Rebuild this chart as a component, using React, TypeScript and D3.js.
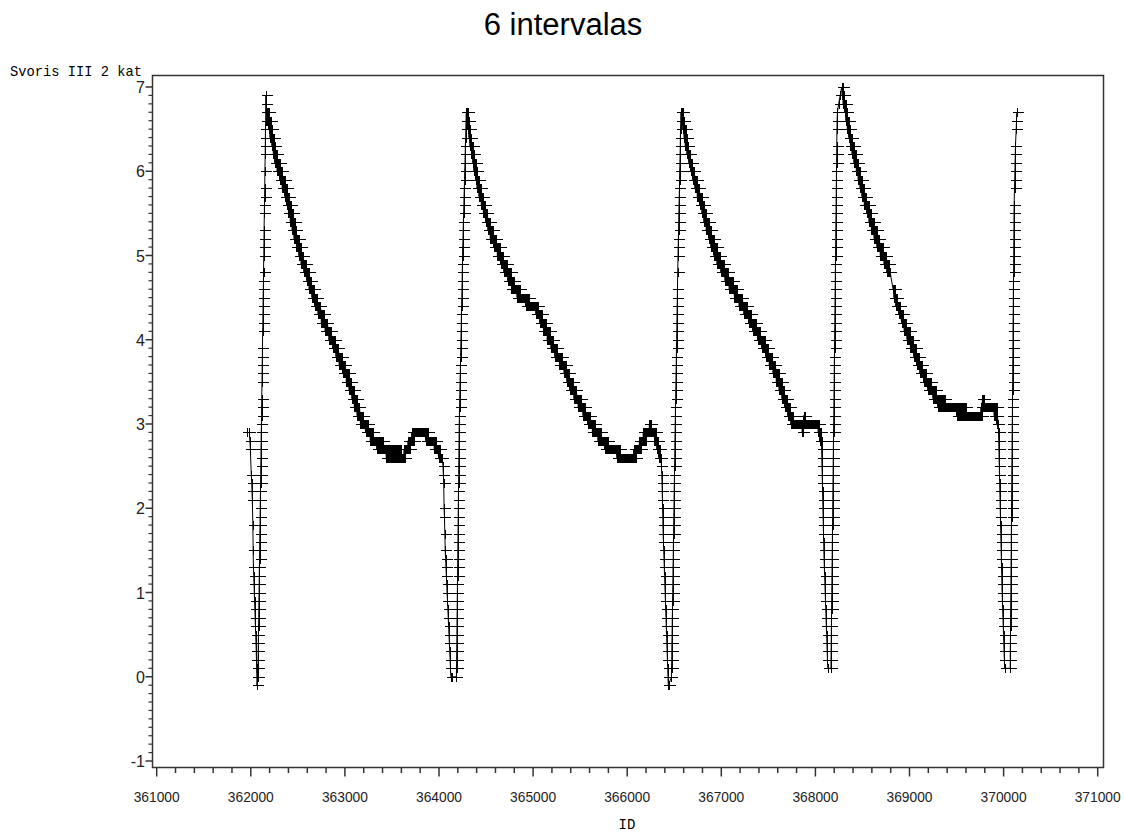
import React from 'react';
import * as d3 from 'd3';

// readings: [ID, value] -- the steep drops and rises, one marker per reading
// level runs: [value, first ID, last ID] -- the slow decays, where the markers
// sit so close together that they merge into a band

const seg1Drop = [
  [361960, 2.9], [361985, 2.9], [361990, 2.8], [361995, 2.7], [362005, 2.4], [362010, 2.3],
  [362013, 2.2], [362016, 2.1], [362022, 1.8], [362025, 1.5], [362028, 1.3], [362031, 1.2],
  [362034, 1.1], [362037, 1.0], [362040, 0.9], [362043, 0.8], [362046, 0.7], [362049, 0.6],
  [362052, 0.5], [362055, 0.4], [362058, 0.3], [362060, 0.2], [362062, 0.1], [362064, 0.0],
  [362066, -0.1],
];

const seg1Rise = [
  [362075, 0], [362076, 0.1], [362077, 0.2], [362079, 0.3], [362080, 0.4], [362081, 0.5],
  [362082, 0.6], [362084, 0.7], [362085, 0.8], [362086, 0.9], [362088, 1.0], [362089, 1.1],
  [362090, 1.2], [362091, 1.3], [362093, 1.4], [362094, 1.5], [362095, 1.6], [362096, 1.7],
  [362098, 1.8], [362099, 1.9], [362100, 2.0], [362101, 2.1], [362103, 2.2], [362104, 2.3],
  [362105, 2.4], [362106, 2.5], [362108, 2.6], [362109, 2.7], [362110, 2.8], [362111, 2.9],
  [362113, 3.0], [362114, 3.1], [362115, 3.2], [362116, 3.3], [362119, 3.5], [362120, 3.6],
  [362121, 3.7], [362123, 3.8], [362124, 3.9], [362126, 4.1], [362128, 4.2], [362129, 4.3],
  [362130, 4.4], [362131, 4.5], [362133, 4.6], [362134, 4.7], [362135, 4.8], [362138, 5.0],
  [362139, 5.1], [362140, 5.2], [362141, 5.3], [362144, 5.5], [362145, 5.6], [362146, 5.7],
  [362148, 5.8], [362150, 6.0], [362153, 6.2], [362154, 6.3], [362155, 6.4], [362156, 6.5],
  [362158, 6.6], [362159, 6.7], [362160, 6.8], [362161, 6.9],
];

const seg1Decay = [
  [6.7, 362162, 362190], [6.6, 362175, 362210], [6.5, 362190, 362225], [6.4, 362205, 362245],
  [6.3, 362225, 362260], [6.2, 362240, 362280], [6.1, 362255, 362305], [6.0, 362280, 362330],
  [5.9, 362305, 362360], [5.8, 362335, 362385], [5.7, 362360, 362405], [5.6, 362380, 362425],
  [5.5, 362400, 362445], [5.4, 362420, 362465], [5.3, 362440, 362485], [5.2, 362460, 362510],
  [5.1, 362485, 362535], [5.0, 362510, 362560], [4.9, 362535, 362590], [4.8, 362565, 362620],
  [4.7, 362595, 362645], [4.6, 362620, 362675], [4.5, 362650, 362705], [4.4, 362680, 362740],
  [4.3, 362715, 362775], [4.2, 362750, 362815], [4.1, 362790, 362855], [4.0, 362830, 362895],
  [3.9, 362870, 362930], [3.8, 362905, 362965], [3.7, 362940, 363000], [3.6, 362975, 363040],
  [3.5, 363015, 363070], [3.4, 363045, 363100], [3.3, 363075, 363125], [3.2, 363100, 363155],
  [3.1, 363130, 363190], [3.0, 363165, 363245], [2.9, 363220, 363300], [2.8, 363270, 363400],
  [2.7, 363340, 363600], [2.6, 363440, 363640], [2.7, 363630, 363690], [2.8, 363670, 363735],
  [2.9, 363710, 363880], [2.8, 363860, 363970], [2.7, 363950, 364010], [2.6, 363995, 364035],
];

const seg2Drop = [
  [364042, 2.5], [364046, 2.4], [364050, 2.3], [364054, 2.0], [364058, 1.9], [364062, 1.7],
  [364066, 1.5], [364070, 1.4], [364074, 1.3], [364078, 1.2], [364082, 1.1], [364086, 1.0],
  [364090, 0.9], [364094, 0.8], [364098, 0.7], [364102, 0.6], [364106, 0.5], [364110, 0.4],
  [364114, 0.3], [364118, 0.2], [364122, 0.1], [364126, 0.0], [364140, 0.0],
];

const seg2Rise = [
  [364185, 0], [364186, 0.1], [364187, 0.2], [364188, 0.3], [364189, 0.4], [364190, 0.5],
  [364191, 0.6], [364192, 0.7], [364193, 0.8], [364194, 0.9], [364195, 1.0], [364196, 1.1],
  [364197, 1.2], [364198, 1.3], [364199, 1.4], [364200, 1.5], [364201, 1.6], [364202, 1.7],
  [364203, 1.8], [364204, 1.9], [364205, 2.0], [364206, 2.1], [364207, 2.2], [364208, 2.3],
  [364209, 2.4], [364210, 2.5], [364211, 2.6], [364212, 2.7], [364213, 2.8], [364214, 2.9],
  [364215, 3.0], [364217, 3.1], [364219, 3.2], [364220, 3.3], [364222, 3.4], [364224, 3.5],
  [364226, 3.6], [364228, 3.7], [364229, 3.8], [364231, 3.9], [364233, 4.0], [364235, 4.1],
  [364237, 4.2], [364238, 4.3], [364240, 4.4], [364242, 4.5], [364244, 4.6], [364246, 4.7],
  [364247, 4.8], [364249, 4.9], [364250, 5.0], [364252, 5.1], [364255, 5.2], [364257, 5.3],
  [364259, 5.4], [364262, 5.5], [364264, 5.6], [364266, 5.7], [364269, 5.8], [364271, 5.9],
  [364273, 6.0], [364276, 6.1], [364278, 6.2], [364280, 6.3], [364283, 6.4], [364285, 6.5],
  [364287, 6.6], [364290, 6.7],
];

const seg2Decay = [
  [6.7, 364291, 364305], [6.6, 364295, 364318], [6.5, 364305, 364332], [6.4, 364318, 364345],
  [6.3, 364330, 364360], [6.2, 364345, 364375], [6.1, 364360, 364390], [6.0, 364372, 364405],
  [5.9, 364388, 364425], [5.8, 364405, 364445], [5.7, 364425, 364470], [5.6, 364450, 364492],
  [5.5, 364472, 364515], [5.4, 364495, 364540], [5.3, 364520, 364570], [5.2, 364545, 364605],
  [5.1, 364580, 364645], [5.0, 364620, 364680], [4.9, 364655, 364720], [4.8, 364690, 364760],
  [4.7, 364730, 364800], [4.6, 364770, 364860], [4.5, 364830, 364960], [4.4, 364920, 365050],
  [4.3, 365030, 365095], [4.2, 365070, 365135], [4.1, 365110, 365175], [4.0, 365150, 365215],
  [3.9, 365190, 365255], [3.8, 365230, 365310], [3.7, 365280, 365350], [3.6, 365330, 365385],
  [3.5, 365360, 365420], [3.4, 365390, 365460], [3.3, 365435, 365505], [3.2, 365480, 365555],
  [3.1, 365530, 365605], [3.0, 365580, 365655], [2.9, 365630, 365720], [2.8, 365690, 365800],
  [2.7, 365760, 365920], [2.6, 365890, 366090], [2.7, 366070, 366150], [2.8, 366130, 366195],
  [2.9, 366170, 366310], [3.0, 366235, 366250], [2.8, 366290, 366330], [2.7, 366315, 366345],
  [2.6, 366335, 366360],
];

const seg3Drop = [
  [366364, 2.5], [366367, 2.4], [366370, 2.3], [366372, 2.2], [366374, 2.1], [366376, 2.0],
  [366378, 1.9], [366380, 1.8], [366382, 1.7], [366385, 1.6], [366388, 1.5], [366391, 1.4],
  [366394, 1.3], [366397, 1.2], [366400, 1.1], [366403, 1.0], [366406, 0.9], [366409, 0.8],
  [366412, 0.7], [366415, 0.6], [366418, 0.5], [366421, 0.4], [366424, 0.3], [366427, 0.2],
  [366430, 0.1], [366433, 0.0], [366437, -0.1], [366440, -0.1],
];

const seg3Rise = [
  [366470, 0], [366471, 0.1], [366473, 0.2], [366474, 0.3], [366475, 0.4], [366477, 0.5],
  [366478, 0.6], [366479, 0.7], [366481, 0.8], [366482, 0.9], [366483, 1.0], [366485, 1.1],
  [366486, 1.2], [366487, 1.3], [366489, 1.4], [366490, 1.5], [366491, 1.6], [366493, 1.7],
  [366494, 1.8], [366495, 1.9], [366497, 2.0], [366498, 2.1], [366499, 2.2], [366501, 2.3],
  [366502, 2.4], [366503, 2.5], [366505, 2.6], [366506, 2.7], [366507, 2.8], [366509, 2.9],
  [366510, 3.0], [366512, 3.1], [366513, 3.2], [366515, 3.3], [366516, 3.4], [366518, 3.5],
  [366519, 3.6], [366521, 3.7], [366522, 3.8], [366524, 3.9], [366525, 4.0], [366527, 4.1],
  [366528, 4.2], [366530, 4.3], [366531, 4.4], [366533, 4.5], [366534, 4.6], [366537, 4.8],
  [366540, 5.0], [366542, 5.1], [366544, 5.2], [366546, 5.3], [366547, 5.4], [366549, 5.5],
  [366551, 5.6], [366553, 5.7], [366555, 5.8], [366556, 5.9], [366558, 6.0], [366560, 6.1],
  [366562, 6.2], [366564, 6.3], [366565, 6.4], [366567, 6.5], [366569, 6.6], [366570, 6.7],
];

const seg3Decay = [
  [6.7, 366571, 366590], [6.6, 366580, 366605], [6.5, 366592, 366620], [6.4, 366605, 366635],
  [6.3, 366618, 366650], [6.2, 366635, 366670], [6.1, 366655, 366690], [6.0, 366675, 366715],
  [5.9, 366695, 366740], [5.8, 366720, 366765], [5.7, 366745, 366790], [5.6, 366770, 366815],
  [5.5, 366795, 366840], [5.4, 366815, 366865], [5.3, 366840, 366895], [5.2, 366865, 366925],
  [5.1, 366890, 366955], [5.0, 366920, 366990], [4.9, 366955, 367030], [4.8, 366995, 367075],
  [4.7, 367040, 367120], [4.6, 367085, 367170], [4.5, 367140, 367225], [4.4, 367190, 367275],
  [4.3, 367240, 367320], [4.2, 367290, 367365], [4.1, 367335, 367415], [4.0, 367385, 367465],
  [3.9, 367430, 367500], [3.8, 367470, 367540], [3.7, 367510, 367575], [3.6, 367550, 367610],
  [3.5, 367585, 367640], [3.4, 367615, 367670], [3.3, 367645, 367700], [3.2, 367675, 367730],
  [3.1, 367705, 367765], [3.0, 367740, 368040], [2.9, 367860, 367870], [3.1, 367875, 367885],
  [2.9, 368030, 368055], [2.8, 368045, 368065],
];

const seg4Drop = [
  [368066, 2.7], [368068, 2.6], [368070, 2.5], [368072, 2.4], [368074, 2.3], [368076, 2.2],
  [368078, 2.1], [368080, 2.0], [368082, 1.9], [368084, 1.8], [368086, 1.7], [368088, 1.6],
  [368090, 1.5], [368092, 1.4], [368095, 1.3], [368098, 1.2], [368101, 1.1], [368104, 1.0],
  [368107, 0.9], [368110, 0.8], [368113, 0.7], [368116, 0.6], [368119, 0.5], [368122, 0.4],
  [368125, 0.3], [368128, 0.2], [368132, 0.1], [368136, 0.1],
];

const seg4Rise = [
  [368165, 0.1], [368166, 0.2], [368167, 0.3], [368168, 0.4], [368169, 0.5], [368170, 0.6],
  [368171, 0.7], [368172, 0.8], [368173, 0.9], [368174, 1.0], [368175, 1.1], [368176, 1.2],
  [368177, 1.3], [368178, 1.4], [368179, 1.5], [368180, 1.6], [368181, 1.7], [368182, 1.8],
  [368183, 1.9], [368184, 2.0], [368185, 2.1], [368186, 2.2], [368187, 2.3], [368188, 2.4],
  [368189, 2.5], [368190, 2.6], [368191, 2.7], [368192, 2.8], [368193, 2.9], [368194, 3.0],
  [368195, 3.1], [368196, 3.2], [368197, 3.3], [368198, 3.4], [368199, 3.5], [368200, 3.6],
  [368201, 3.7], [368202, 3.8], [368203, 3.9], [368204, 4.0], [368205, 4.1], [368206, 4.2],
  [368207, 4.3], [368208, 4.4], [368209, 4.5], [368210, 4.6], [368211, 4.7], [368212, 4.8],
  [368213, 4.9], [368214, 5.0], [368215, 5.1], [368216, 5.2], [368217, 5.3], [368218, 5.4],
  [368219, 5.5], [368220, 5.6], [368221, 5.7], [368222, 5.8], [368223, 5.9], [368224, 6.0],
  [368225, 6.1], [368226, 6.2], [368227, 6.3], [368229, 6.5], [368231, 6.6], [368234, 6.7],
  [368247, 6.8], [368263, 6.9], [368280, 7.0],
];

const seg4Decay = [
  [7.0, 368281, 368295], [6.9, 368285, 368305], [6.8, 368295, 368320], [6.7, 368310, 368340],
  [6.6, 368325, 368355], [6.5, 368340, 368372], [6.4, 368355, 368390], [6.3, 368372, 368410],
  [6.2, 368390, 368430], [6.1, 368410, 368455], [6.0, 368435, 368475], [5.9, 368455, 368495],
  [5.8, 368475, 368515], [5.7, 368495, 368540], [5.6, 368520, 368565], [5.5, 368545, 368590],
  [5.4, 368570, 368620], [5.3, 368595, 368650], [5.2, 368625, 368680], [5.1, 368655, 368715],
  [5.0, 368690, 368755], [4.9, 368730, 368780], [4.8, 368760, 368795], [4.6, 368825, 368850],
  [4.5, 368835, 368870], [4.4, 368855, 368900], [4.3, 368885, 368930], [4.2, 368915, 368965],
  [4.1, 368945, 369000], [4.0, 368975, 369035], [3.9, 369010, 369070], [3.8, 369045, 369100],
  [3.7, 369075, 369135], [3.6, 369110, 369175], [3.5, 369150, 369225], [3.4, 369195, 369280],
  [3.3, 369250, 369380], [3.2, 369300, 369600], [3.1, 369500, 369770], [3.3, 369775, 369790],
  [3.2, 369760, 369930], [3.1, 369900, 369935], [3.0, 369925, 369945],
];

const seg5Drop = [
  [369946, 2.9], [369948, 2.8], [369950, 2.7], [369952, 2.6], [369954, 2.5], [369956, 2.4],
  [369958, 2.3], [369960, 2.2], [369962, 2.1], [369964, 2.0], [369966, 1.9], [369968, 1.8],
  [369970, 1.7], [369972, 1.6], [369974, 1.5], [369976, 1.4], [369978, 1.3], [369980, 1.2],
  [369982, 1.1], [369984, 1.0], [369987, 0.9], [369990, 0.8], [369993, 0.7], [369996, 0.6],
  [369999, 0.5], [370002, 0.4], [370005, 0.3], [370008, 0.2], [370011, 0.1], [370015, 0.1],
];

const seg5Rise = [
  [370070, 0.1], [370071, 0.2], [370071, 0.3], [370072, 0.4], [370073, 0.5], [370074, 0.6],
  [370074, 0.7], [370075, 0.8], [370076, 0.9], [370077, 1.0], [370078, 1.1], [370078, 1.2],
  [370079, 1.3], [370080, 1.4], [370081, 1.5], [370081, 1.6], [370082, 1.7], [370083, 1.8],
  [370084, 1.9], [370084, 2.0], [370085, 2.1], [370086, 2.2], [370087, 2.3], [370087, 2.4],
  [370088, 2.5], [370089, 2.6], [370090, 2.7], [370090, 2.8], [370091, 2.9], [370092, 3.0],
  [370093, 3.1], [370094, 3.2], [370094, 3.3], [370095, 3.4], [370096, 3.5], [370097, 3.6],
  [370097, 3.7], [370098, 3.8], [370099, 3.9], [370100, 4.0], [370100, 4.1], [370101, 4.2],
  [370102, 4.3], [370103, 4.4], [370103, 4.5], [370104, 4.6], [370105, 4.7], [370106, 4.8],
  [370107, 4.9], [370107, 5.0], [370108, 5.1], [370109, 5.2], [370110, 5.3], [370110, 5.4],
  [370111, 5.5], [370112, 5.6], [370116, 5.8], [370118, 5.9], [370120, 6.0], [370122, 6.1],
  [370124, 6.2], [370126, 6.3], [370134, 6.5], [370137, 6.6], [370140, 6.7],
];

const xTickValues = [361000, 362000, 363000, 364000, 365000, 366000, 367000, 368000, 369000, 370000, 371000];
const yTickValues = [-1, 0, 1, 2, 3, 4, 5, 6, 7];

const title = '6 intervalas';
const yLabel = 'Svoris III 2 kat';
const xLabel = 'ID';

// points inside one run are this many IDs apart
const RUN_STEP = 8;

const expandRuns = (runs) => {
  const pts = [];
  runs.forEach(([v, a, b]) => {
    for (let id = a; id < b; id += RUN_STEP) pts.push([id, v]);
    pts.push([b, v]);
  });
  return pts;
};

const points = [
  ...seg1Drop, ...seg1Rise, ...expandRuns(seg1Decay),
  ...seg2Drop, ...seg2Rise, ...expandRuns(seg2Decay),
  ...seg3Drop, ...seg3Rise, ...expandRuns(seg3Decay),
  ...seg4Drop, ...seg4Rise, ...expandRuns(seg4Decay),
  ...seg5Drop, ...seg5Rise,
].sort((a, b) => a[0] - b[0]);

const frame = { left: 152.5, top: 75.5, right: 1103.5, bottom: 767.5 };

const x = d3.scaleLinear().domain([361000, 371000]).range([156.7, 1097.7]);
const y = d3.scaleLinear().domain([-1, 7]).range([761, 87]);

const xMinor = d3.range(361000, 371001, 200).filter(v => v % 1000 !== 0);
const yMinor = d3.range(-10, 71).filter(v => v % 10 !== 0).map(v => v / 10);

const axisColor = '#333';
const tickFont = "'Liberation Sans', Arial, sans-serif";

const App = () => {
  const line = d3.line().x(d => x(d[0])).y(d => y(d[1]));

  // plus markers, snapped to the pixel grid like the original bitmap
  const markerPath = points.map(([id, v]) => {
    const px = Math.round(x(id)) + 0.5;
    const py = Math.round(y(v)) + 0.5;
    return `M${px - 5},${py}h11M${px},${py - 4.5}v9`;
  }).join('');

  return (
    <svg width={1124} height={834} style={{ position: 'absolute', left: 0, top: 0, display: 'block', background: '#fff' }}>
      <text x={563} y={35} textAnchor="middle" fontFamily={tickFont} fontSize={31} fill="#000">
        {title}
      </text>

      <text x={10} y={76} fontFamily="'Liberation Mono', monospace" fontSize={15} textLength={132} lengthAdjust="spacingAndGlyphs" fill="#000">
        {yLabel}
      </text>
      <text x={627} y={829} textAnchor="middle" fontFamily="'Liberation Mono', monospace" fontSize={14} fill="#000">
        {xLabel}
      </text>

      <path d={line(points)} fill="none" stroke="#000" strokeWidth={1} />
      <path d={markerPath} fill="none" stroke="#000" strokeWidth={1} shapeRendering="crispEdges" />

      <rect x={frame.left} y={frame.top} width={frame.right - frame.left} height={frame.bottom - frame.top}
        fill="none" stroke={axisColor} strokeWidth={1.5} />

      {/* x axis ticks */}
      {xTickValues.map(v => (
        <g key={'xt' + v}>
          <line x1={x(v)} x2={x(v)} y1={frame.bottom} y2={frame.bottom + 9} stroke={axisColor} strokeWidth={1.5} />
          <text x={x(v)} y={802} textAnchor="middle" fontFamily={tickFont} fontSize={15}
            textLength={46} lengthAdjust="spacingAndGlyphs" fill="#222">{v}</text>
        </g>
      ))}
      {xMinor.map(v => (
        <line key={'xm' + v} x1={x(v)} x2={x(v)} y1={frame.bottom} y2={frame.bottom + 5.5} stroke={axisColor} strokeWidth={1.5} />
      ))}

      {/* y axis ticks */}
      {yTickValues.map(v => (
        <g key={'yt' + v}>
          <line x1={frame.left - 7} x2={frame.left} y1={y(v)} y2={y(v)} stroke={axisColor} strokeWidth={1.5} />
          <text x={145} y={y(v) + 6} textAnchor="end" fontFamily={tickFont} fontSize={16} fill="#222">
            {v}
          </text>
        </g>
      ))}
      {yMinor.map(v => (
        <line key={'ym' + v} x1={frame.left - 4} x2={frame.left} y1={y(v)} y2={y(v)} stroke={axisColor} strokeWidth={1.2} />
      ))}
    </svg>
  );
};

export default App;
